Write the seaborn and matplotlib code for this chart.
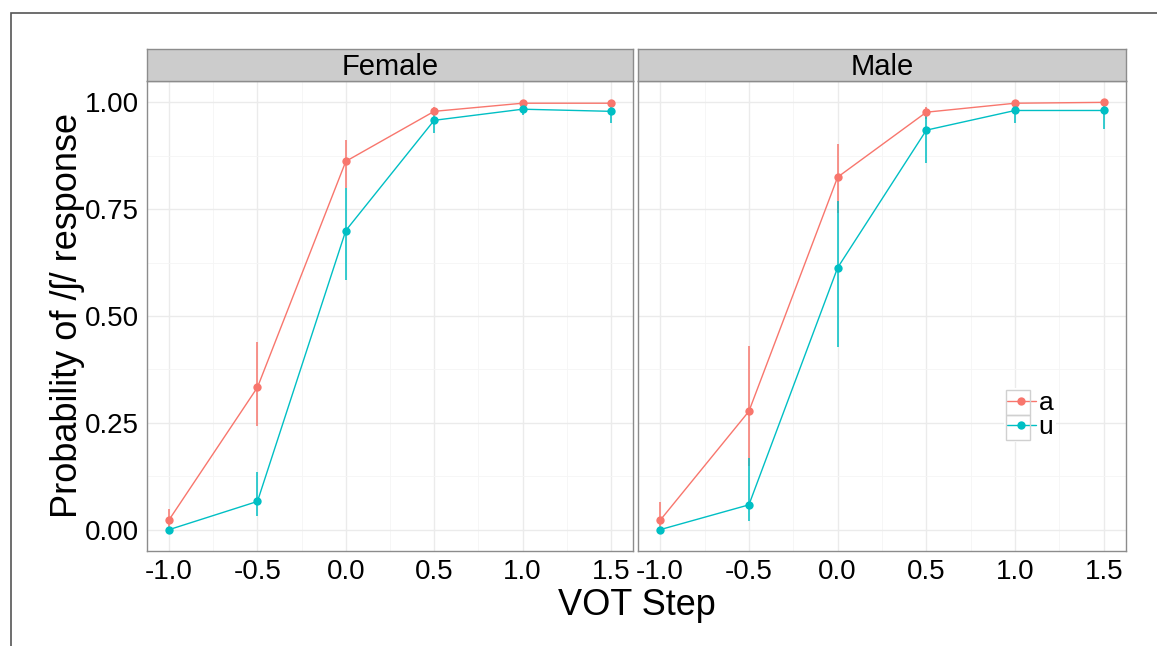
"""
plot.py - VOT step identification curves (Female / Male panels)
"""
import pandas as pd
import matplotlib.pyplot as plt
import seaborn as sns
from matplotlib.patches import Rectangle
from matplotlib.ticker import MultipleLocator

# ---- data ----
steps = [-1.0, -0.5, 0.0, 0.5, 1.0, 1.5]
vowels = ["a", "u"]
genders = ["Female", "Male"]

female_a = [0.023, 0.333, 0.862, 0.979, 0.998, 0.998]
female_a_lo = [0.005, 0.242, 0.800, 0.970, 0.992, 0.994]
female_a_hi = [0.049, 0.438, 0.911, 0.988, 1.000, 1.000]
female_u = [0.000, 0.066, 0.700, 0.958, 0.984, 0.979]
female_u_lo = [0.000, 0.033, 0.585, 0.928, 0.970, 0.951]
female_u_hi = [0.003, 0.135, 0.800, 0.975, 0.992, 0.990]

male_a = [0.022, 0.277, 0.825, 0.977, 0.998, 1.000]
male_a_lo = [0.004, 0.150, 0.740, 0.960, 0.992, 0.995]
male_a_hi = [0.065, 0.430, 0.902, 0.990, 1.000, 1.000]
male_u = [0.000, 0.058, 0.613, 0.935, 0.981, 0.981]
male_u_lo = [0.000, 0.021, 0.427, 0.858, 0.951, 0.937]
male_u_hi = [0.003, 0.168, 0.770, 0.975, 0.992, 0.992]

x_ticks = [-1.0, -0.5, 0.0, 0.5, 1.0, 1.5]
y_ticks = [0.0, 0.25, 0.5, 0.75, 1.0]

series = {
    ("Female", "a"): (female_a, female_a_lo, female_a_hi),
    ("Female", "u"): (female_u, female_u_lo, female_u_hi),
    ("Male", "a"): (male_a, male_a_lo, male_a_hi),
    ("Male", "u"): (male_u, male_u_lo, male_u_hi),
}
rows = []
for (g, v), (p, lo, hi) in series.items():
    for s, pv, l, h in zip(steps, p, lo, hi):
        rows.append({"gender": g, "vowel": v, "step": s, "prob": pv, "lo": l, "hi": h})
df = pd.DataFrame(rows)

palette = {"a": "#F8766D", "u": "#00BFC4"}

sns.set_style("white")
plt.rcParams['font.family'] = ['Liberation Sans', 'DejaVu Sans']
plt.rcParams['text.color'] = 'black'
plt.rcParams['xtick.labelcolor'] = 'black'
plt.rcParams['ytick.labelcolor'] = 'black'

W, H = 1157, 646
fig = plt.figure(figsize=(W / 100, H / 100), dpi=100)

# outer frame (only top and left edges fall inside the image)
fig.add_artist(Rectangle((11 / W, -0.2), 1.2, 1.2 - 13 / H, transform=fig.transFigure,
                         fill=False, edgecolor="#555555", linewidth=1.2))

panels = {"Female": 147, "Male": 638}
widths = {"Female": 486, "Male": 488}

for i, g in enumerate(genders):
    left = panels[g]
    ax = fig.add_axes([left / W, 1 - 551 / H, widths[g] / W, 470 / H])
    sub = df[df.gender == g]

    for v in vowels:
        d = sub[sub.vowel == v]
        ax.vlines(d.step, d.lo, d.hi, colors=palette[v], linewidth=1.1, zorder=2)

    sns.lineplot(data=sub, x="step", y="prob", hue="vowel", palette=palette,
                 marker="o", markersize=6, markeredgewidth=0, linewidth=1.0,
                 errorbar=None, ax=ax, legend=(g == "Male"), zorder=3)

    ax.set_xlim(-1.125, 1.625)
    ax.set_ylim(-0.05, 1.05)
    ax.set_xticks(x_ticks)
    ax.set_xticklabels([f"{t:.1f}" for t in x_ticks], fontsize=20)
    ax.xaxis.set_minor_locator(MultipleLocator(0.25))
    ax.yaxis.set_minor_locator(MultipleLocator(0.125))
    ax.grid(which="major", color="#EBEBEB", linewidth=1.0, zorder=0)
    ax.grid(which="minor", color="#F5F5F5", linewidth=0.6, zorder=0)
    ax.set_axisbelow(True)
    ax.set_xlabel("")
    ax.set_ylabel("")
    ax.tick_params(axis="x", which="major", length=4, width=1, color="#333333", pad=2)
    ax.tick_params(which="minor", length=0)
    ax.set_yticks(y_ticks)
    if i == 0:
        ax.set_yticklabels([f"{t:.2f}" for t in y_ticks], fontsize=20)
        ax.tick_params(axis="y", which="major", length=4, width=1, color="#333333", pad=2)
    else:
        ax.set_yticklabels([])
        ax.tick_params(axis="y", which="major", length=0)
    for sp in ax.spines.values():
        sp.set_color("#8C8C8C")
        sp.set_linewidth(1.0)

    if g == "Male":
        handles, labels = ax.get_legend_handles_labels()
        ax.legend(handles, labels, loc="center", bbox_to_anchor=(1030 / W, 1 - 415 / H),
                  bbox_transform=fig.transFigure, fontsize=19, frameon=True,
                  facecolor="white", edgecolor="none", framealpha=1,
                  handlelength=1.1, handletextpad=0.12, labelspacing=0.0,
                  borderpad=0.1, borderaxespad=0)
        # grey-bordered legend keys, as in the reference
        for ky in (390, 415):
            fig.add_artist(Rectangle((1006 / W, 1 - (ky + 25) / H), 24 / W, 25 / H,
                                     transform=fig.transFigure, fill=False,
                                     edgecolor="#D0D0D0", linewidth=1.0, zorder=5))

    # facet strip
    strip = fig.add_axes([left / W, 1 - 81 / H, widths[g] / W, 32 / H])
    strip.set_facecolor("#CCCCCC")
    strip.set_xticks([])
    strip.set_yticks([])
    for sp in strip.spines.values():
        sp.set_color("#8C8C8C")
        sp.set_linewidth(1.0)
    strip.text(0.5, 0.45, g, ha="center", va="center", fontsize=21, transform=strip.transAxes)

fig.text(68 / W, 1 - 316 / H, "Probability of /ʃ/ response", rotation=90,
         ha="center", va="center", fontsize=26)
fig.text(637 / W, 1 - 615 / H, "VOT Step", ha="center", va="baseline", fontsize=26)

fig.savefig("out.png", dpi=100)
plt.close(fig)
